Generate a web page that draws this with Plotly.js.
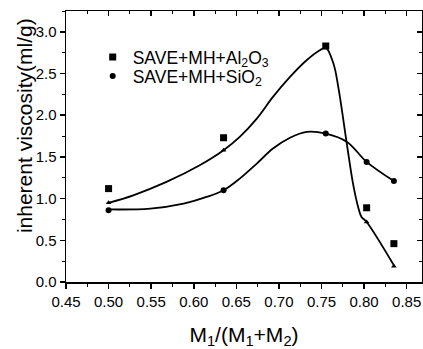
<!DOCTYPE html>
<html>
<head>
<meta charset="utf-8">
<script src="https://cdn.plot.ly/plotly-3.0.1.min.js"></script>
<style>html,body{margin:0;padding:0;background:#fff;}#chart{width:423px;height:349px;}</style>
</head>
<body>
<div id="chart"></div>
<script>
// Measured data (x = M1/(M1+M2))
var ratio = [0.500, 0.635, 0.755, 0.803, 0.835];
var al2o3 = [1.12, 1.73, 2.83, 0.89, 0.46];
var sio2 = [0.86, 1.10, 1.78, 1.44, 1.21];
// small markers sitting on the upper fitted curve
var fitMarks = [0.95, 1.58, 2.81, 0.72, 0.19];

// Fitted curves
var upperCurveX = [0.500, 0.529, 0.568, 0.607, 0.635, 0.654, 0.674, 0.693, 0.713, 0.7325, 0.748, 0.755, 0.764, 0.770, 0.780, 0.787, 0.793, 0.797, 0.803, 0.835];
var upperCurveY = [0.95, 1.04, 1.20, 1.40, 1.58, 1.74, 1.96, 2.22, 2.46, 2.66, 2.78, 2.81, 2.62, 2.32, 1.64, 1.18, 0.90, 0.78, 0.72, 0.20];
var lowerCurveX = [0.500, 0.549, 0.588, 0.615, 0.635, 0.654, 0.674, 0.693, 0.713, 0.7325, 0.755, 0.780, 0.803, 0.835];
var lowerCurveY = [0.87, 0.88, 0.94, 1.02, 1.10, 1.24, 1.42, 1.60, 1.73, 1.80, 1.78, 1.68, 1.44, 1.21];

var xTicks = [0.45, 0.50, 0.55, 0.60, 0.65, 0.70, 0.75, 0.80, 0.85];
var xTickText = ['0.45', '0.50', '0.55', '0.60', '0.65', '0.70', '0.75', '0.80', '0.85'];
var yTicks = [0.0, 0.5, 1.0, 1.5, 2.0, 2.5, 3.0];
var yTickText = ['0.0', '0.5', '1.0', '1.5', '2.0', '2.5', '3.0'];

var legendNames = ['SAVE+MH+Al<sub>2</sub>O<sub>3</sub>', 'SAVE+MH+SiO<sub>2</sub>'];
var xTitle = 'M<sub>1</sub>/(M<sub>1</sub>+M<sub>2</sub>)';
var yTitle = 'inherent viscosity(ml/g)';

var FONT = 'Liberation Sans, Arial, sans-serif';
var xRange = [0.45, 0.868];
var yRange = [0, 3.25];

var traces = [
  {x: upperCurveX, y: upperCurveY, mode: 'lines', line: {color: '#000', width: 1.8, shape: 'spline', smoothing: 1}, showlegend: false, hoverinfo: 'skip'},
  {x: lowerCurveX, y: lowerCurveY, mode: 'lines', line: {color: '#000', width: 1.8, shape: 'spline', smoothing: 1}, showlegend: false, hoverinfo: 'skip'},
  {x: ratio, y: fitMarks, mode: 'markers', marker: {symbol: 'triangle-up', size: 5, color: '#000'}, showlegend: false},
  {x: ratio, y: al2o3, mode: 'markers', name: legendNames[0], legend: 'legend', marker: {symbol: 'square', size: 7, color: '#000'}},
  {x: ratio, y: sio2, mode: 'markers', name: legendNames[1], legend: 'legend2', marker: {symbol: 'circle', size: 6, color: '#000'}},
  {x: [ratio[0]], y: [sio2[0]], xaxis: 'x2', yaxis: 'y2', mode: 'markers', marker: {opacity: 0}, showlegend: false, hoverinfo: 'skip'}
];

var axisCommon = {showgrid: false, zeroline: false, showline: true, linecolor: '#000', linewidth: 1.5, tickcolor: '#000', tickwidth: 1.5};
var legendCommon = {xanchor: 'left', yanchor: 'middle', bgcolor: 'rgba(0,0,0,0)', font: {family: FONT, size: 17.5, color: '#000'}, itemsizing: 'trace'};

var layout = {
  width: 423, height: 349,
  margin: {l: 66, r: 1, t: 11, b: 67},
  paper_bgcolor: '#fff', plot_bgcolor: '#fff',
  font: {family: FONT, color: '#000'},
  showlegend: true,
  legend: Object.assign({}, legendCommon, {x: 0.075, y: 0.830}),
  legend2: Object.assign({}, legendCommon, {x: 0.075, y: 0.760}),
  annotations: [{
    text: yTitle, xref: 'paper', yref: 'paper', x: -0.118, y: 0.579, xanchor: 'center', yanchor: 'middle',
    textangle: -90, showarrow: false, font: {family: FONT, size: 21, color: '#000'}
  }],
  xaxis: Object.assign({}, axisCommon, {
    range: xRange, tickmode: 'array', tickvals: xTicks, ticktext: xTickText,
    ticks: 'outside', ticklen: 5, tickfont: {family: FONT, size: 15, color: '#000'},
    minor: {ticks: 'outside', ticklen: 3, dtick: 0.025, tick0: 0.45, tickcolor: '#000', tickwidth: 1},
    title: {text: xTitle, font: {family: FONT, size: 21, color: '#000'}, standoff: 22}
  }),
  yaxis: Object.assign({}, axisCommon, {
    range: yRange, tickmode: 'array', tickvals: yTicks, ticktext: yTickText,
    ticks: 'outside', ticklen: 5, tickfont: {family: FONT, size: 15, color: '#000'},
    minor: {ticks: 'outside', ticklen: 3, dtick: 0.25, tick0: 0, tickcolor: '#000', tickwidth: 1}
  }),
  xaxis2: Object.assign({}, axisCommon, {
    overlaying: 'x', side: 'top', anchor: 'y2', range: xRange, tickmode: 'array', tickvals: xTicks,
    showticklabels: false, ticks: 'inside', ticklen: 5,
    minor: {ticks: 'inside', ticklen: 3, dtick: 0.025, tick0: 0.45, tickcolor: '#000', tickwidth: 1}
  }),
  yaxis2: Object.assign({}, axisCommon, {
    overlaying: 'y', side: 'right', anchor: 'x2', range: yRange, tickmode: 'array', tickvals: yTicks,
    showticklabels: false, ticks: 'inside', ticklen: 5,
    minor: {ticks: 'inside', ticklen: 3, dtick: 0.25, tick0: 0, tickcolor: '#000', tickwidth: 1}
  })
};

Plotly.newPlot('chart', traces, layout, {displayModeBar: false, staticPlot: true});
</script>
</body>
</html>
